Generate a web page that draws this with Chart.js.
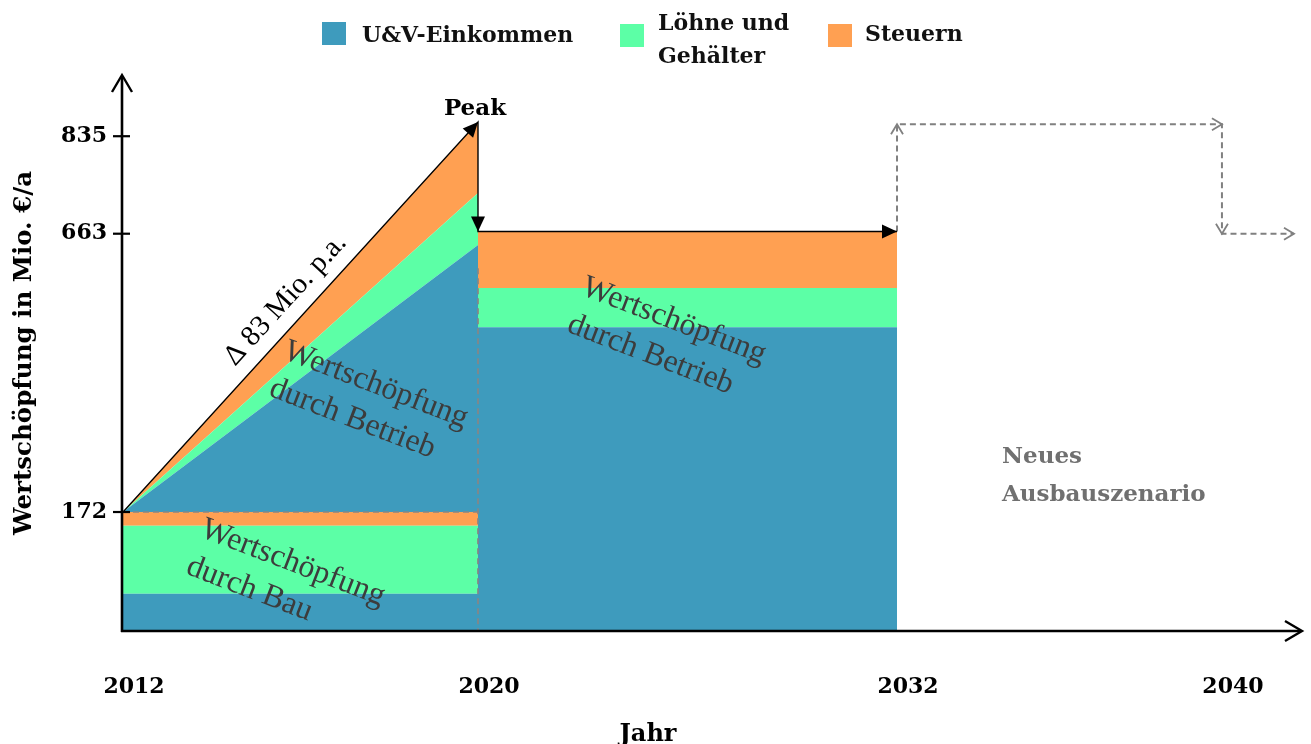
<!DOCTYPE html>
<html lang="de">
<head>
<meta charset="utf-8">
<title>Wertschöpfung</title>
<script src="https://cdn.jsdelivr.net/npm/chart.js@4/dist/chart.umd.min.js"></script>
<style>
  html, body { margin: 0; padding: 0; background: #fff; }
  #wrap { width: 1311px; height: 744px; }
</style>
</head>
<body>
<div id="wrap"><canvas id="c" width="1311" height="744"></canvas></div>
<script>
// ---- Werte (Mio. €/a) ----
const years = [2012, 2020, 2032, 2040];
const yTicks = [172, 663, 835];

// Wertschöpfung durch Bau
const bauYears = [2012, 2020];
const bauEinkommen = [54, 54];
const bauLoehne = [98, 98];
const bauSteuern = [20, 20];

// Hochlauf der Wertschöpfung durch Betrieb (auf den Bau gestapelt)
const rampYears = [2012, 2020];
const rampEinkommen = [0, 471];
const rampLoehne = [0, 92];
const rampSteuern = [0, 125];

// Wertschöpfung durch Betrieb
const betriebYears = [2020, 2032];
const betriebEinkommen = [498, 498];
const betriebLoehne = [69, 69];
const betriebSteuern = [100, 100];

// Pfeil: Hochlauf -> Peak -> Betriebsniveau
const pfeilYears = [2012, 2020, 2020, 2032];
const pfeilWerte = [172, 860, 667, 667];

// Neues Ausbauszenario
const szenarioYears = [2032, 2032, 2040, 2040, 2041.8];
const szenarioWerte = [667, 856, 856, 663, 663];

// Hilfslinien
const bauNiveauYears = [2012, 2020];
const bauNiveauWerte = [172, 172];
const trennYears = [2020, 2020];
const trennWerte = [602, 0];

const legendLabels = [['U&V-Einkommen'], ['Löhne und', 'Gehälter'], ['Steuern']];

const BLUE = '#3E9BBD', GREEN = '#5CFFA6', ORANGE = '#FFA052';
const BOLD = '"DejaVu Serif", serif';
const REG = '"Liberation Serif", "DejaVu Serif", serif';

// Stückweise lineare Achse (schematische Darstellung)
class SchematicScale extends Chart.LinearScale {
  _frac(v) {
    const p = this.options.pieces;
    let i = 1;
    while (i < p.length - 1 && v > p[i][0]) i++;
    const [v0, f0] = p[i - 1], [v1, f1] = p[i];
    return f0 + (v - v0) * (f1 - f0) / (v1 - v0);
  }
  getPixelForValue(value) {
    if (value === null || value === undefined || isNaN(value)) return NaN;
    return this.getPixelForDecimal(this._frac(+value));
  }
  getValueForPixel(pixel) {
    const d = this.getDecimalForPixel(pixel);
    const p = this.options.pieces;
    let i = 1;
    while (i < p.length - 1 && d > p[i][1]) i++;
    const [v0, f0] = p[i - 1], [v1, f1] = p[i];
    return v0 + (d - f0) * (v1 - v0) / (f1 - f0);
  }
}
SchematicScale.id = 'schematic';
SchematicScale.defaults = Chart.LinearScale.defaults;
Chart.register(SchematicScale);

const pts = (xs, ys) => xs.map((x, i) => ({ x, y: ys[i] }));

function area(data, color, fill, stack) {
  return { data, backgroundColor: color, borderColor: 'rgba(0,0,0,0)', borderWidth: 0,
           fill, stack, order: 2, pointRadius: 0 };
}

const datasets = [
  area(pts(bauYears, bauEinkommen), BLUE, 'origin', 'bau'),
  area(pts(bauYears, bauLoehne), GREEN, '-1', 'bau'),
  area(pts(bauYears, bauSteuern), ORANGE, '-1', 'bau'),
  area(pts(rampYears, rampEinkommen), BLUE, '-1', 'bau'),
  area(pts(rampYears, rampLoehne), GREEN, '-1', 'bau'),
  area(pts(rampYears, rampSteuern), ORANGE, '-1', 'bau'),
  area(pts(betriebYears, betriebEinkommen), BLUE, 'origin', 'betrieb'),
  area(pts(betriebYears, betriebLoehne), GREEN, '-1', 'betrieb'),
  area(pts(betriebYears, betriebSteuern), ORANGE, '-1', 'betrieb'),
  { data: pts(bauNiveauYears, bauNiveauWerte), stack: 'h1', order: 1, fill: false,
    borderColor: '#868686', borderWidth: 1.7, borderDash: [6, 4], pointRadius: 0 },
  { data: pts(trennYears, trennWerte), stack: 'h2', order: 1, fill: false,
    borderColor: '#868686', borderWidth: 1.7, borderDash: [6, 4], pointRadius: 0 },
  { data: pts(pfeilYears, pfeilWerte), stack: 'p', order: 0, fill: false,
    borderColor: '#000', borderWidth: 1.4, pointRadius: 0, arrowStyle: 'filled' },
  { data: pts(szenarioYears, szenarioWerte), stack: 's', order: 0, fill: false,
    borderColor: '#808080', borderWidth: 2, borderDash: [6, 4], pointRadius: 0, arrowStyle: 'open' }
];

function chevron(ctx, tip, dir, depth, half) {
  const [dx, dy] = dir, nx = -dy, ny = dx;
  ctx.beginPath();
  ctx.moveTo(tip.x - dx * depth + nx * half, tip.y - dy * depth + ny * half);
  ctx.lineTo(tip.x, tip.y);
  ctx.lineTo(tip.x - dx * depth - nx * half, tip.y - dy * depth - ny * half);
  ctx.stroke();
}
function triangle(ctx, tip, dir, depth, half) {
  const [dx, dy] = dir, nx = -dy, ny = dx;
  ctx.beginPath();
  ctx.moveTo(tip.x, tip.y);
  ctx.lineTo(tip.x - dx * depth + nx * half, tip.y - dy * depth + ny * half);
  ctx.lineTo(tip.x - dx * depth - nx * half, tip.y - dy * depth - ny * half);
  ctx.closePath();
  ctx.fill();
}
function unit(a, b) {
  const dx = b.x - a.x, dy = b.y - a.y, l = Math.hypot(dx, dy);
  return [dx / l, dy / l];
}
function rotatedLines(ctx, lines, x, y, deg, gap) {
  ctx.save();
  ctx.translate(x, y);
  ctx.rotate(deg * Math.PI / 180);
  ctx.textAlign = 'left';
  ctx.textBaseline = 'alphabetic';
  lines.forEach((t, i) => ctx.fillText(t, 0, i * gap));
  ctx.restore();
}

const decorations = {
  id: 'decorations',
  afterDatasetsDraw(chart) {
    const ctx = chart.ctx;
    // Pfeilspitzen
    chart.data.datasets.forEach((ds, i) => {
      if (!ds.arrowStyle) return;
      const p = chart.getDatasetMeta(i).data;
      ctx.save();
      ctx.setLineDash([]);
      for (let j = 1; j < p.length; j++) {
        const d = unit(p[j - 1], p[j]);
        if (ds.arrowStyle === 'filled') {
          ctx.fillStyle = ds.borderColor;
          triangle(ctx, p[j], d, 15, 7);
        } else {
          ctx.strokeStyle = ds.borderColor;
          ctx.lineWidth = 1.8;
          chevron(ctx, p[j], d, 10, 6);
        }
      }
      ctx.restore();
    });

    // Beschriftungen der Flächen
    ctx.save();
    ctx.fillStyle = '#3c3c3c';
    ctx.font = '32px ' + REG;
    rotatedLines(ctx, ['Wertschöpfung', 'durch Bau'], 199, 536, 21, 40);
    rotatedLines(ctx, ['Wertschöpfung', 'durch Betrieb'], 282, 358, 21, 40);
    rotatedLines(ctx, ['Wertschöpfung', 'durch Betrieb'], 580, 294, 21, 40);

    // Steigung am Hochlauf
    const pm = chart.getDatasetMeta(11).data;
    const d = unit(pm[0], pm[1]);
    const t = 0.505;
    const bx = pm[0].x + (pm[1].x - pm[0].x) * t + d[1] * 15;
    const by = pm[0].y + (pm[1].y - pm[0].y) * t - d[0] * 15;
    ctx.translate(bx, by);
    ctx.rotate(Math.atan2(d[1], d[0]));
    ctx.fillStyle = '#000';
    ctx.font = '29px ' + REG;
    ctx.textAlign = 'center';
    ctx.textBaseline = 'alphabetic';
    ctx.fillText('Δ 83 Mio. p.a.', 0, 0);
    ctx.restore();
  },
  afterDraw(chart) {
    const ctx = chart.ctx;
    const { left, right, top, bottom } = chart.chartArea;
    const ys = chart.scales.y;
    ctx.save();
    // Achsen mit Pfeilen
    ctx.strokeStyle = '#000';
    ctx.lineWidth = 2.6;
    ctx.lineCap = 'butt';
    ctx.beginPath();
    ctx.moveTo(left - 2, bottom);
    ctx.lineTo(right - 1, bottom);
    ctx.moveTo(left - 1, bottom + 1);
    ctx.lineTo(left - 1, top + 1);
    ctx.stroke();
    ctx.lineWidth = 2.4;
    ctx.lineJoin = 'miter';
    chevron(ctx, { x: right, y: bottom }, [1, 0], 17, 10);
    chevron(ctx, { x: left - 1, y: top }, [0, -1], 17, 10);
    // Teilstriche der y-Achse
    ctx.lineWidth = 2.2;
    yTicks.forEach(v => {
      const py = ys.getPixelForValue(v);
      ctx.beginPath();
      ctx.moveTo(left - 10, py);
      ctx.lineTo(left + 7, py);
      ctx.stroke();
    });

    // Texte
    ctx.fillStyle = '#000';
    ctx.font = 'bold 23px ' + BOLD;
    ctx.textAlign = 'center';
    ctx.textBaseline = 'alphabetic';
    ctx.fillText('Peak', 475, 115);
    ctx.font = 'bold 24px ' + BOLD;
    ctx.fillText('Jahr', 648, 741);

    ctx.fillStyle = '#707070';
    ctx.textAlign = 'left';
    ctx.font = 'bold 23px ' + BOLD;
    ctx.fillText('Neues', 1002, 463);
    ctx.fillText('Ausbauszenario', 1002, 501);

    // Legende
    const items = [
      { color: BLUE, box: [322, 22], text: [362, 42] },
      { color: GREEN, box: [620, 24], text: [658, 30] },
      { color: ORANGE, box: [828, 24], text: [865, 41] }
    ];
    ctx.font = 'bold 22px ' + BOLD;
    items.forEach((it, i) => {
      ctx.fillStyle = it.color;
      ctx.fillRect(it.box[0], it.box[1], 24, 23);
      ctx.fillStyle = '#111';
      legendLabels[i].forEach((line, k) => ctx.fillText(line, it.text[0], it.text[1] + k * 33));
    });
    ctx.restore();
  }
};

new Chart(document.getElementById('c'), {
  type: 'line',
  data: { datasets },
  options: {
    responsive: false,
    animation: false,
    layout: { padding: { top: 75, right: 9, left: 0, bottom: 0 } },
    plugins: { legend: { display: false }, tooltip: { enabled: false } },
    elements: { point: { radius: 0 }, line: { tension: 0 } },
    scales: {
      x: {
        type: 'schematic',
        position: 'bottom',
        min: 2012, max: 2042,
        pieces: [[2012, 0], [2020, 0.3011], [2032, 0.6565], [2040, 0.9321], [2042, 1]],
        grid: { display: false },
        border: { display: false },
        afterBuildTicks: s => { s.ticks = years.map(v => ({ value: v })); },
        afterFit: s => { s.height = 113; },
        ticks: {
          callback: v => String(v),
          labelOffset: 11,
          padding: 35,
          maxRotation: 0,
          autoSkip: false,
          color: '#000',
          font: { family: BOLD, size: 22, weight: 'bold' }
        }
      },
      y: {
        type: 'schematic',
        stacked: true,
        min: 0, max: 943,
        pieces: [[0, 0], [172, 0.214], [943, 1]],
        grid: { display: false },
        border: { display: false },
        afterBuildTicks: s => { s.ticks = yTicks.map(v => ({ value: v })); },
        afterFit: s => { s.width = 123; },
        ticks: {
          callback: v => String(v),
          padding: 8,
          autoSkip: false,
          color: '#000',
          font: { family: BOLD, size: 22, weight: 'bold' }
        },
        title: {
          display: true,
          text: 'Wertschöpfung in Mio. €/a',
          color: '#000',
          padding: { top: 10, bottom: 0 },
          font: { family: BOLD, size: 24.5, weight: 'bold' }
        }
      }
    }
  },
  plugins: [decorations]
});
</script>
</body>
</html>
